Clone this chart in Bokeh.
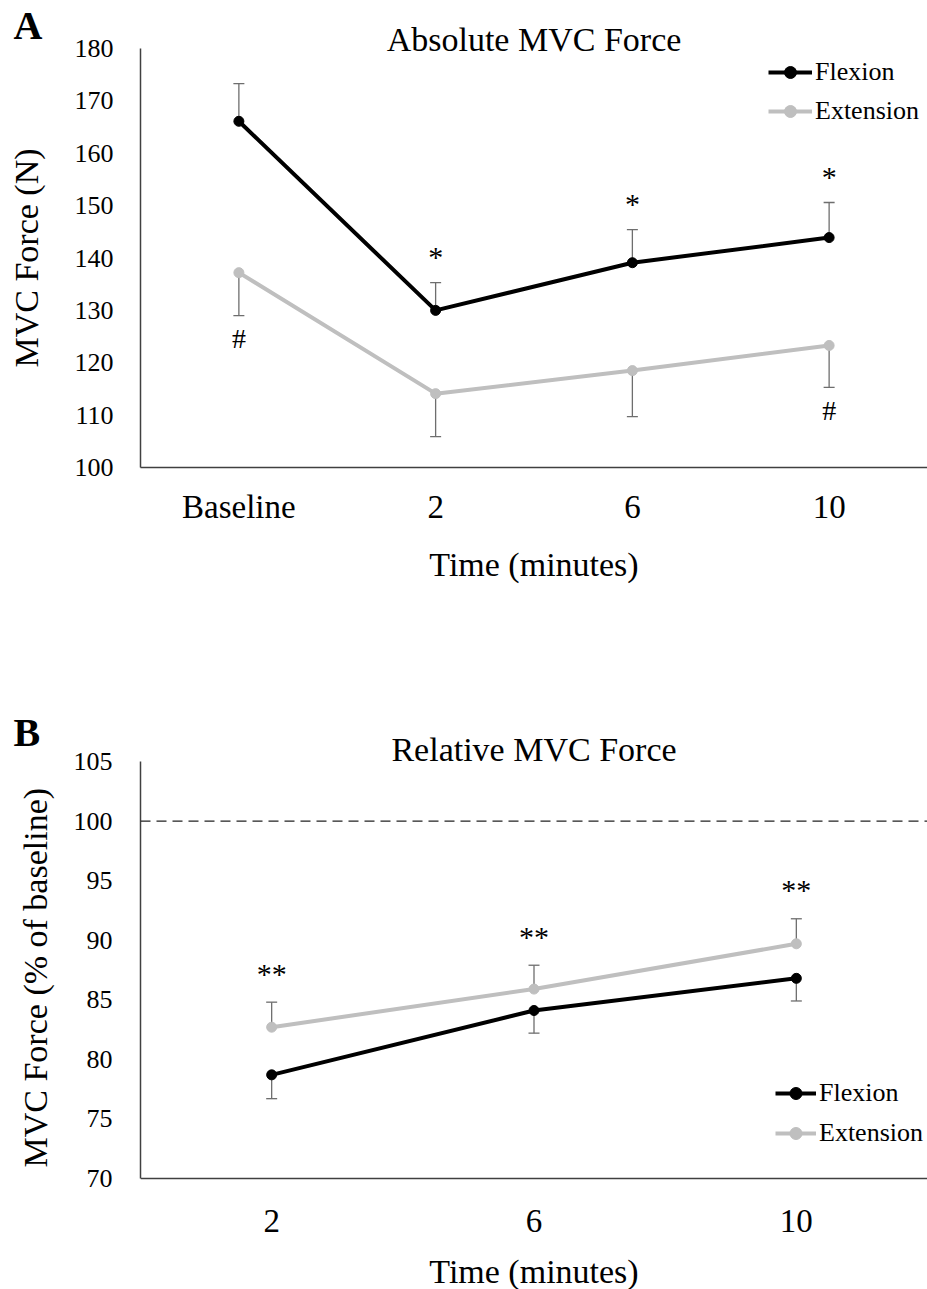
from bokeh.plotting import figure
from bokeh.models import (FactorRange, Range1d, FixedTicker, Title, Legend, LegendItem,
                          ColumnDataSource, Span)
from bokeh.layouts import column
from bokeh.core.properties import value
from bokeh.embed import file_html
from bokeh.resources import INLINE

# ---------------- data ----------------
cats_a = ["Baseline", "2", "6", "10"]
flex_abs = [166.1, 130.0, 139.1, 143.9]
flex_abs_se = [7.2, 5.3, 6.3, 6.7]
ext_abs = [137.2, 114.1, 118.5, 123.3]
ext_abs_se = [8.2, 8.2, 8.8, 8.0]
flex_abs_sig = ["", "*", "*", "*"]
ext_abs_sig = ["#", "", "", "#"]
yticks_a = [100, 110, 120, 130, 140, 150, 160, 170, 180]

cats_b = ["2", "6", "10"]
flex_rel = [78.7, 84.1, 86.8]
flex_rel_se = [2.0, 1.9, 1.9]
ext_rel = [82.7, 85.9, 89.7]
ext_rel_se = [2.1, 2.0, 2.1]
ext_rel_sig = ["**", "**", "**"]
baseline_pct = 100
yticks_b = [70, 75, 80, 85, 90, 95, 100, 105]

FONT = "Liberation Serif"
FLEX_C = "#000000"
EXT_C = "#BFBFBF"
ERR_C = "#6e6e6e"
AX_C = "#404040"


def style_axes(p, ylabel, ytick, y_standoff, ylab_standoff, x_standoff, xlab_standoff):
    p.outline_line_color = None
    p.xgrid.visible = False
    p.ygrid.visible = False
    p.background_fill_color = "white"
    for ax in (p.xaxis[0], p.yaxis[0]):
        ax.axis_line_color = AX_C
        ax.axis_line_width = 1.5
        ax.major_tick_line_color = None
        ax.minor_tick_line_color = None
        ax.major_tick_out = 0
        ax.major_tick_in = 0
        ax.minor_tick_out = 0
        ax.minor_tick_in = 0
        ax.major_label_text_font = FONT
        ax.major_label_text_color = "black"
        ax.axis_label_text_font = FONT
        ax.axis_label_text_font_style = "normal"
        ax.axis_label_text_color = "black"
        ax.axis_label_text_font_size = "34px"
    ya = p.yaxis[0]
    ya.ticker = FixedTicker(ticks=ytick)
    ya.major_label_text_font_size = "26px"
    ya.major_label_standoff = y_standoff
    ya.axis_label = ylabel
    ya.axis_label_standoff = ylab_standoff
    xa = p.xaxis[0]
    xa.major_label_text_font_size = "33px"
    xa.major_label_standoff = x_standoff
    xa.axis_label = "Time (minutes)"
    xa.axis_label_standoff = xlab_standoff


def add_titles(p, main, letter, s_main, s_letter, letter_offset):
    p.add_layout(Title(text=main, align="center", standoff=s_main, text_font=FONT,
                       text_font_size="34px", text_font_style="normal",
                       text_color="black"), "above")
    p.add_layout(Title(text=letter, align="left", offset=letter_offset, standoff=s_letter,
                       text_font=FONT, text_font_size="40px", text_font_style="bold",
                       text_color="black"), "above")


def add_series(p, cats, mean, se, direction, color, sig, sig_size, sig_offset):
    src = ColumnDataSource(dict(x=cats, m=mean,
                                e=[m + direction * s for m, s in zip(mean, se)]))
    p.segment(x0="x", y0="m", x1="x", y1="e", source=src, line_color=ERR_C, line_width=1.3)
    p.scatter(x="x", y="e", source=src, marker="dash", size=11,
              line_color=ERR_C, line_width=1.3)
    ln = p.line(x="x", y="m", source=src, line_color=color, line_width=4)
    sc = p.scatter(x="x", y="m", source=src, marker="circle", size=10,
                   fill_color=color, line_color=color)
    idx = [i for i, t in enumerate(sig) if t]
    tsrc = ColumnDataSource(dict(x=[cats[i] for i in idx],
                                 y=[src.data["e"][i] for i in idx],
                                 t=[sig[i] for i in idx]))
    p.text(x="x", y="y", text="t", source=tsrc, text_align="center",
           text_baseline="alphabetic", y_offset=sig_offset,
           text_font=value(FONT), text_font_size=value(sig_size), text_color="black")
    return ln, sc


def make_legend(items, loc, gw, spacing):
    return Legend(items=[LegendItem(label=l, renderers=r) for l, r in items],
                  location=loc, glyph_width=gw, glyph_height=30, label_height=30,
                  label_standoff=3, spacing=spacing, padding=0, margin=0,
                  border_line_alpha=0, background_fill_alpha=0,
                  label_text_font=FONT, label_text_font_size="26px",
                  label_text_color="black")


# ---------------- Panel A ----------------
pA = figure(width=927, height=640, x_range=FactorRange(*cats_a), y_range=Range1d(100, 180),
            output_backend="svg", toolbar_location=None, title=None,
            min_border_left=137, min_border_right=0, min_border_top=48, min_border_bottom=173)
style_axes(pA, "MVC Force (N)", yticks_a, 27, 27, 21, 18)
add_titles(pA, "Absolute MVC Force", "A", -18, -40, -127)

ex_l, ex_s = add_series(pA, cats_a, ext_abs, ext_abs_se, -1, EXT_C, ext_abs_sig, "28px", 23)
fl_l, fl_s = add_series(pA, cats_a, flex_abs, flex_abs_se, 1, FLEX_C, flex_abs_sig, "30px", -26)

pA.add_layout(make_legend([("Flexion", [fl_l, fl_s]), ("Extension", [ex_l, ex_s])],
                          (628, 341), 44, 9))

# ---------------- Panel B ----------------
# The frame runs to the bottom of the figure; the x axis is pinned at y = 70 so
# that its labels sit where the reference has them.
B_H, B_TOP = 649, 121
AXIS_PX = 417                       # pixels between 105 and 70
y_lo_b, y_hi_b = yticks_b[0], yticks_b[-1]
extra = (B_H - B_TOP - AXIS_PX) / AXIS_PX * (y_hi_b - y_lo_b)
pB = figure(width=927, height=B_H, x_range=FactorRange(*cats_b),
            y_range=Range1d(y_lo_b - extra, y_hi_b),
            output_backend="svg", toolbar_location=None, title=None,
            min_border_left=140, min_border_right=0, min_border_top=B_TOP, min_border_bottom=0)
style_axes(pB, None, yticks_b, 28, 0, 31, 18)
pB.yaxis[0].axis_label = None
pB.yaxis[0].bounds = (y_lo_b, y_hi_b)
pB.xaxis[0].fixed_location = y_lo_b
add_titles(pB, "Relative MVC Force", "B", -13, -38, -127)
pB.add_layout(Title(text="MVC Force (% of baseline)", align="left", vertical_align="top",
                    offset=122, standoff=30, text_font=FONT, text_font_size="34px",
                    text_font_style="normal", text_color="black"), "left")

pB.add_layout(Span(location=baseline_pct, dimension="width", line_color="#222222",
                   line_width=1.3, line_dash="10 6"))

exB_l, exB_s = add_series(pB, cats_b, ext_rel, ext_rel_se, 1, EXT_C, ext_rel_sig, "30px", -29)
flB_l, flB_s = add_series(pB, cats_b, flex_rel, flex_rel_se, -1, FLEX_C, ["", "", ""], "30px", 0)

pB.add_layout(make_legend([("Flexion", [flB_l, flB_s]), ("Extension", [exB_l, exB_s])],
                          (635, 141), 41, 10))

layout = column(pA, pB, spacing=0)
open("out.html", "w").write(file_html(layout, INLINE))
